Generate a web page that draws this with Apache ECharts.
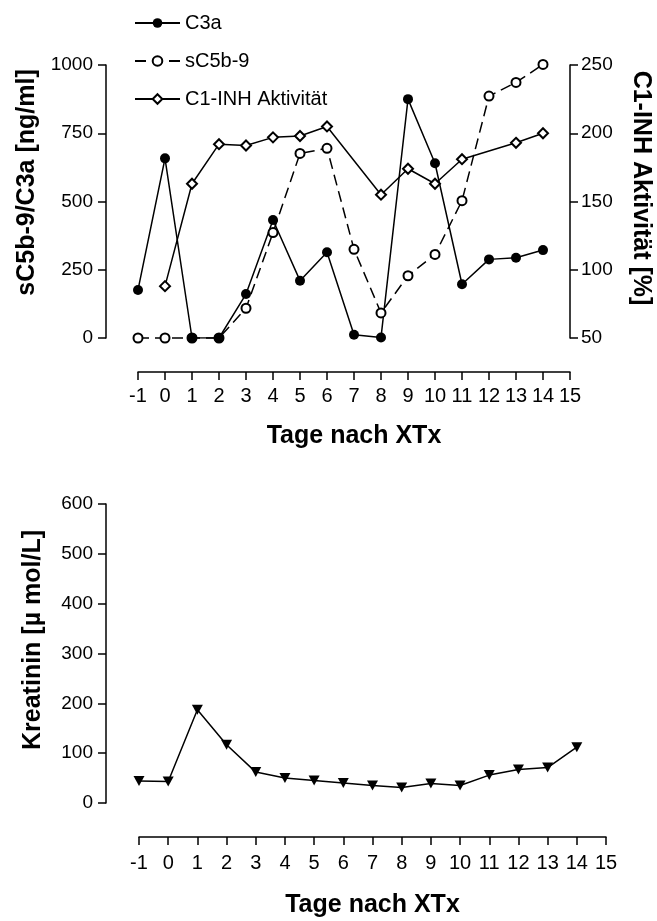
<!DOCTYPE html>
<html>
<head>
<meta charset="utf-8">
<script src="https://cdn.jsdelivr.net/npm/echarts@6/dist/echarts.min.js"></script>
<style>
  html, body { margin: 0; padding: 0; background: #fff; }
  #chart { width: 657px; height: 921px; }
</style>
</head>
<body>
<div id="chart"></div>
<script>
// days after transplantation (x axis)
const days = [-1, 0, 1, 2, 3, 4, 5, 6, 7, 8, 9, 10, 11, 12, 13, 14]

// top chart, left axis [ng/ml]
const c3a = [176, 658, 0, 0, 161, 432, 210, 314, 12, 2, 875, 640, 197, 288, 294, 322]
const sc5b9 = [0, 0, 0, 0, 109, 386, 676, 695, 325, 92, 228, 306, 503, 886, 936, 1002]
// top chart, right axis [%] (no measurement on day -1, 7 and 12)
const c1inh = [null, 88, 163, 192, 191, 197, 198, 205, null, 155, 174, 163, 181, null, 193, 200]

// bottom chart [µmol/L]
const kreatinin = [44, 43, 187, 117, 62, 50, 45, 40, 35, 31, 39, 35, 56, 67, 71, 112]

const FONT = 'Liberation Sans, Arial, sans-serif'

const pairs = (vals) => days.map((d, i) => [d, vals[i]]).filter(p => p[1] != null)

const chart = echarts.init(document.getElementById('chart'))

const axisLine = { show: true, onZero: false, lineStyle: { color: '#000', width: 1.5 } }
const axisTick = { show: true, length: 8, lineStyle: { color: '#000', width: 1.5 } }
const tickLabel = { color: '#000', fontSize: 19, fontFamily: FONT, margin: 13, formatter: (v) => String(v) }
const nameStyle = { color: '#000', fontSize: 25, fontWeight: 'bold', fontFamily: FONT }

const xAxisBase = {
  type: 'value',
  min: -1,
  max: 15,
  interval: 1,
  offset: 34,
  axisLine,
  axisTick,
  axisLabel: { ...tickLabel, fontSize: 20, margin: 14 },
  splitLine: { show: false },
  name: 'Tage nach XTx',
  nameLocation: 'middle',
  nameGap: 52,
  nameTextStyle: nameStyle
}

const option = {
  animation: false,
  backgroundColor: '#fff',
  legend: {
    orient: 'vertical',
    left: 129,
    top: 8,
    itemWidth: 45,
    itemHeight: 12,
    itemGap: 18,
    data: ['C3a', 'sC5b-9', 'C1-INH Aktivität'],
    textStyle: { color: '#000', fontSize: 20, fontFamily: FONT }
  },
  grid: [
    { left: 138, top: 65, width: 432, height: 273, outerBoundsMode: 'none' },
    { left: 139, top: 504, width: 467, height: 299, outerBoundsMode: 'none' }
  ],
  xAxis: [
    { ...xAxisBase, gridIndex: 0 },
    { ...xAxisBase, gridIndex: 1, nameGap: 56, axisLabel: { ...xAxisBase.axisLabel, margin: 16 } }
  ],
  yAxis: [
    {
      gridIndex: 0,
      type: 'value',
      min: 0,
      max: 1000,
      interval: 250,
      offset: 32,
      axisLine,
      axisTick,
      axisLabel: tickLabel,
      splitLine: { show: false },
      name: 'sC5b-9/C3a [ng/ml]',
      nameLocation: 'middle',
      nameGap: 57,
      nameTextStyle: { ...nameStyle, padding: [0, 0, 0, 38] }
    },
    {
      gridIndex: 0,
      type: 'value',
      position: 'right',
      min: 50,
      max: 250,
      interval: 50,
      axisLine,
      axisTick,
      axisLabel: { ...tickLabel, margin: 11 },
      splitLine: { show: false },
      name: 'C1-INH Aktivität [%]',
      nameLocation: 'middle',
      nameGap: 58,
      nameRotate: -90,
      nameTextStyle: { ...nameStyle, padding: [0, 27, 0, 0] }
    },
    {
      gridIndex: 1,
      type: 'value',
      min: 0,
      max: 600,
      interval: 100,
      offset: 33,
      axisLine,
      axisTick,
      axisLabel: tickLabel,
      splitLine: { show: false },
      name: 'Kreatinin [µ mol/L]',
      nameLocation: 'middle',
      nameGap: 60,
      nameTextStyle: { ...nameStyle, padding: [0, 0, 0, 27] }
    }
  ],
  series: [
    {
      name: 'sC5b-9',
      type: 'line',
      xAxisIndex: 0,
      yAxisIndex: 0,
      clip: false,
      data: pairs(sc5b9),
      symbol: 'emptyCircle',
      symbolSize: 9,
      lineStyle: { color: '#000', width: 1.5, type: [11, 6] },
      itemStyle: { color: '#000', borderWidth: 1.5 }
    },
    {
      name: 'C1-INH Aktivität',
      type: 'line',
      xAxisIndex: 0,
      yAxisIndex: 1,
      connectNulls: true,
      data: pairs(c1inh),
      symbol: 'emptyDiamond',
      symbolSize: 10,
      lineStyle: { color: '#000', width: 1.5 },
      itemStyle: { color: '#000', borderWidth: 1.5 }
    },
    {
      name: 'C3a',
      type: 'line',
      xAxisIndex: 0,
      yAxisIndex: 0,
      data: pairs(c3a),
      symbol: 'circle',
      symbolSize: 10,
      lineStyle: { color: '#000', width: 1.5 },
      itemStyle: { color: '#000' }
    },
    {
      name: 'Kreatinin',
      type: 'line',
      xAxisIndex: 1,
      yAxisIndex: 2,
      data: pairs(kreatinin),
      symbol: 'triangle',
      symbolRotate: 180,
      symbolSize: [11, 10],
      lineStyle: { color: '#000', width: 1.5 },
      itemStyle: { color: '#000' }
    }
  ]
}

chart.setOption(option)
</script>
</body>
</html>
